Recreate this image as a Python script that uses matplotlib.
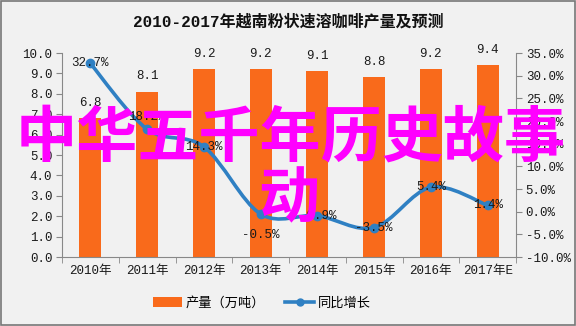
import numpy as np
import matplotlib
matplotlib.use("Agg")
import matplotlib.pyplot as plt
from matplotlib.path import Path
from matplotlib.patches import PathPatch, Patch
from matplotlib.lines import Line2D

plt.rcParams['font.family'] = ['Liberation Mono', 'Noto Sans CJK SC', 'DejaVu Sans']
CJK = ['Noto Sans CJK SC', 'DejaVu Sans']

years = ['2010年', '2011年', '2012年', '2013年', '2014年', '2015年', '2016年', '2017年E']
output = [6.8, 8.1, 9.2, 9.2, 9.1, 8.8, 9.2, 9.4]
growth = [32.7, 18.2, 14.3, -0.5, -0.9, -3.5, 5.4, 1.4]
growth_labels = ['32.7%', '18.2%', '14.3%', '-0.5%', '-0.9%', '-3.5%', '5.4%', '1.4%']

BAR_COLOR = '#F96A1B'
LINE_COLOR = '#2F80C3'
BG = '#F1F1F1'
TXT = '#1a1a1a'


def smooth_path(xs, ys):
    """Catmull-Rom style cubic Bezier through the points."""
    pts = np.column_stack([xs, ys]).astype(float)
    n = len(pts)
    verts = [pts[0]]
    codes = [Path.MOVETO]
    for i in range(n - 1):
        p0 = pts[i - 1] if i > 0 else pts[i]
        p1 = pts[i]
        p2 = pts[i + 1]
        p3 = pts[i + 2] if i + 2 < n else pts[i + 1]
        c1 = p1 + (p2 - p0) / 6.0
        c2 = p2 - (p3 - p1) / 6.0
        verts += [c1, c2, p2]
        codes += [Path.CURVE4] * 3
    return Path(verts, codes)


fig = plt.figure(figsize=(5.76, 3.26), dpi=100, facecolor=BG)
ax = fig.add_axes([62 / 576, 1 - 257 / 326, 454 / 576, 204 / 326])
ax.set_facecolor(BG)

x = np.arange(len(years))
ax.bar(x, output, width=0.39, color=BAR_COLOR, zorder=2)
for xi, v in zip(x, output):
    ax.annotate(f'{v:.1f}', (xi, v), xytext=(0, 11), textcoords='offset points',
                ha='center', va='center', fontsize=9, color=TXT)

ax.set_xlim(-0.5, len(years) - 0.5)
ax.set_ylim(0, 10)
ax.set_yticks(np.arange(0, 10.01, 1))
ax.set_yticklabels([f'{t:.1f}' for t in np.arange(0, 10.01, 1)])
ax.set_xticks(x)
ax.set_xticklabels(years)
ax.set_xticks(np.arange(-0.5, len(years), 1), minor=True)
ax.tick_params(axis='x', which='major', length=0, pad=6, labelsize=9, labelcolor=TXT)
ax.tick_params(axis='x', which='minor', length=4, color='#888888')
ax.tick_params(axis='y', length=4, color='#888888', labelsize=9, pad=3, labelcolor=TXT)
for side in ['top', 'right']:
    ax.spines[side].set_visible(False)
for side in ['left', 'bottom']:
    ax.spines[side].set_color('#888888')

ax2 = ax.twinx()
ax2.set_ylim(-10, 35)
rt = np.arange(-10, 35.01, 5)
ax2.set_yticks(rt)
ax2.set_yticklabels([f'{t:.1f}%' for t in rt])
ax2.tick_params(axis='y', length=4, color='#888888', labelsize=9, pad=3, labelcolor=TXT)
for side in ['top', 'left', 'bottom']:
    ax2.spines[side].set_visible(False)
ax2.spines['right'].set_color('#888888')

ax2.add_patch(PathPatch(smooth_path(x, growth), fill=False, edgecolor=LINE_COLOR,
                        lw=2.6, zorder=3))
ax2.plot(x, growth, 'o', color=LINE_COLOR, ms=6, zorder=4)

label_offsets = [0, 9, 0, -15, 0, 0, 0, 0]
for xi, g, lab, off in zip(x, growth, growth_labels, label_offsets):
    ax2.annotate(lab, (xi, g), xytext=(0, off), textcoords='offset points',
                 ha='center', va='center', fontsize=9, color=TXT, zorder=5)

fig.text(0.5, 1 - 22 / 326, '2010-2017年越南粉状速溶咖啡产量及预测',
         ha='center', va='center', fontsize=11.5, fontweight='bold', color='#111111')

handles = [Patch(facecolor=BAR_COLOR, edgecolor='none'),
           Line2D([], [], color=LINE_COLOR, lw=2.6, marker='o', ms=5)]
fig.legend(handles, ['产量（万吨）', '同比增长'], loc='center', ncol=2,
           bbox_to_anchor=(262 / 576, 1 - 303 / 326), frameon=False,
           prop={'family': CJK, 'size': 9.5}, handlelength=2.2, handleheight=0.7,
           columnspacing=1.5, handletextpad=0.3)

# big magenta overlay caption
fig.text(291 / 576, 1 - 139 / 326, '中华五千年历史故事', ha='center', va='center',
         fontsize=44, fontweight='bold', color='#FF00FF', zorder=10, family=CJK)
fig.text(289 / 576, 1 - 200 / 326, '动', ha='center', va='center',
         fontsize=44, fontweight='bold', color='#FF00FF', zorder=10, family=CJK)

# outer frame
fig.add_artist(plt.Rectangle((0.002, 0.003), 0.996, 0.994, transform=fig.transFigure,
                             fill=False, edgecolor='#777777', lw=1.2))

fig.savefig('out.png', dpi=100, facecolor=BG)
